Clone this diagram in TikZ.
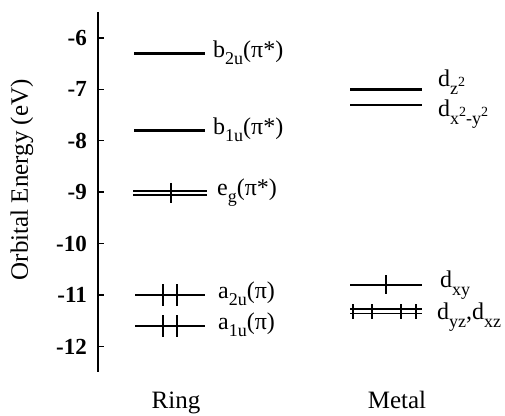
\documentclass[tikz,border=0pt]{standalone}
\usepackage{fontspec}
\setmainfont{Liberation Serif}
\newcommand\mosub[1]{\raisebox{-0.3em}{\fontsize{18}{18}\selectfont #1}}
\newcommand\mosup[1]{\raisebox{0.45em}{\fontsize{14}{14}\selectfont #1}}
\tikzset{
  mo axis/.style={draw=black, line width=1.8pt},
  mo tick/.style={draw=black, line width=1.4pt},
  mo level/.style={draw=black, line width=2.5pt},
  mo pair/.style={draw=black, line width=1.6pt},
  mo spin/.style={draw=black, line width=1.8pt},
  mo label/.style={font=\fontsize{24}{26}\selectfont, anchor=base west, inner sep=0pt},
  mo tick label/.style={font=\fontsize{23}{25}\selectfont\bfseries, anchor=east, inner sep=0pt},
  mo title/.style={font=\fontsize{25}{28}\selectfont, inner sep=0pt},
}

\begin{document}
\begin{tikzpicture}[x=1pt, y=51.4pt]
  \useasboundingbox (0,-13.335) rectangle (505,-5.261);

  % energy axis with ticks
  \draw[mo axis] (98,-5.494) -- (98,-12.498);
  \foreach \e in {-6,-7,...,-12} {
    \draw[mo tick] (98,\e) -- (104,\e);
    \node[mo tick label] (tick\e) at (87,\e) {\e};
  }
  \node[mo title, rotate=90] (energy) at (22,-8.76) {Orbital Energy (eV)};

  % Ring column
  \draw[mo level] (134,-6.3) -- (205,-6.3);
  \node[mo label] (b2u) at (213,-6.38) {b\mosub{2u}(π*)};
  \draw[mo level] (134,-7.8) -- (205,-7.8);
  \node[mo label] (b1u) at (213,-7.88) {b\mosub{1u}(π*)};
  \draw[mo pair] (133,-8.98) -- (207,-8.98);
  \draw[mo pair] (133,-9.06) -- (207,-9.06);
  \draw[mo spin] (171,-8.82) -- (171,-9.22);
  \node[mo label] (eg) at (217,-9.07) {e\mosub{g}(π*)};
  \draw[mo level] (135,-11.0) -- (205,-11.0);
  \foreach \s in {163,177}
    \draw[mo spin] (\s,-10.79) -- (\s,-11.21);
  \node[mo label] (a2u) at (218,-11.07) {a\mosub{2u}(π)};
  \draw[mo level] (135,-11.6) -- (205,-11.6);
  \foreach \s in {163,177}
    \draw[mo spin] (\s,-11.39) -- (\s,-11.81);
  \node[mo label] (a1u) at (218,-11.67) {a\mosub{1u}(π)};
  \node[mo title, anchor=base] (ring) at (176,-13.218) {Ring};

  % Metal column
  \draw[mo level] (350,-7.0) -- (422,-7.0);
  \node[mo label] (dz2) at (438,-6.953) {d\mosub{z\mosup{2}}};
  \draw[mo level] (350,-7.3) -- (422,-7.3);
  \node[mo label] (dx2y2) at (438,-7.537) {d\mosub{x\mosup{2}-y\mosup{2}}};
  \draw[mo level, line width=2pt] (350,-10.8) -- (422,-10.8);
  \draw[mo spin] (386,-10.62) -- (386,-10.98);
  \node[mo label] (dxy) at (440,-10.864) {d\mosub{xy}};
  \draw[mo pair, line width=1.8pt] (350,-11.28) -- (422,-11.28);
  \draw[mo pair, line width=1.8pt] (350,-11.36) -- (422,-11.36);
  \foreach \s in {353,372,401,416}
    \draw[mo spin] (\s,-11.18) -- (\s,-11.46);
  \node[mo label] (dyz) at (437,-11.486) {d\mosub{yz},d\mosub{xz}};
  \node[mo title, anchor=base] (metal) at (397,-13.218) {Metal};
\end{tikzpicture}
\end{document}
